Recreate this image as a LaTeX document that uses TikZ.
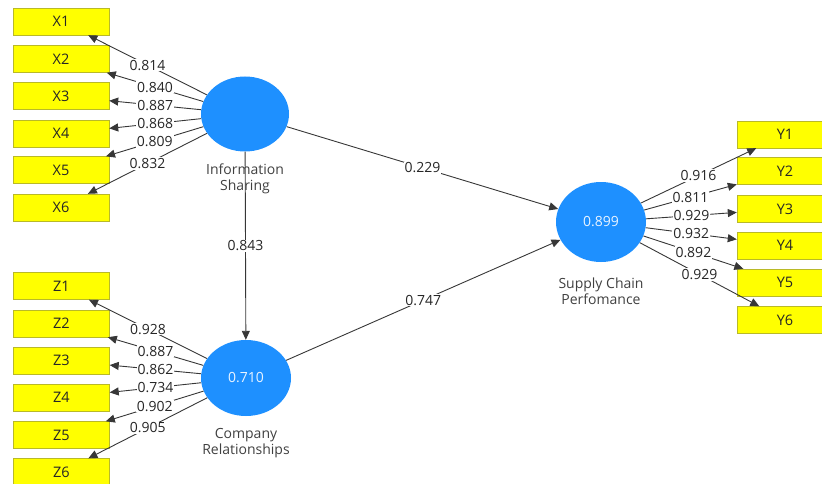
\documentclass[tikz,border=0pt]{standalone}
\usepackage{fontspec}
\setmainfont{Open Sans}
\usepackage{xcolor}
\usepackage{tikz}
\usetikzlibrary{arrows.meta,shapes.geometric}

\definecolor{latentblue}{RGB}{30,144,255}
\definecolor{itemyellow}{RGB}{255,255,0}
\definecolor{itemedge}{RGB}{185,185,40}
\definecolor{pathgray}{RGB}{55,55,55}

\tikzset{
	item/.style={draw=itemedge, fill=itemyellow, minimum width=96pt, minimum height=27pt, inner sep=0pt, text=black!85, font=\fontsize{14.5}{15}\selectfont},
	latent/.style={ellipse, fill=latentblue, inner sep=0pt, text=white!90!latentblue, font=\fontsize{14}{15}\selectfont},
	load/.style={draw=pathgray, line width=0.9pt, -{Triangle[length=9pt,width=8pt]}},
	weight/.style={fill=white, inner sep=1pt, text=black!85, font=\fontsize{14}{15}\selectfont},
	caption/.style={align=center, text=black!75, font=\fontsize{14}{16}\selectfont}
}

\begin{document}
\begin{tikzpicture}[x=1pt,y=-1pt]
\useasboundingbox (0,0) rectangle (822,484);

% constructs
\node[latent, minimum width=88pt, minimum height=75pt] (info) at (245,114) {};
\node[latent, minimum width=90pt, minimum height=76pt] (comp) at (246,378) {0.710};
\node[latent, minimum width=90pt, minimum height=80pt] (supply) at (601,222) {0.899};

\node[caption] (infotext) at (245,179) {Information\\Sharing};
\node[caption] (comptext) at (246,443) {Company\\Relationships};
\node[caption] (supplytext) at (601,291) {Supply Chain\\Perfomance};

% indicators
\foreach \n/\y in {1/21.5,2/59,3/96,4/133.5,5/170,6/207.5}{
	\node[item] (x\n) at (61,\y) {X\n};
}
\foreach \n/\y in {1/286,2/323.5,3/360.5,4/397.5,5/435,6/472}{
	\node[item] (z\n) at (61.5,\y) {Z\n};
}
\foreach \n/\y in {1/134.5,2/171,3/209,4/245.5,5/282.5,6/320}{
	\node[item] (y\n) at (785,\y) {Y\n};
}

% outer loadings
\foreach \n in {1,...,6}{
	\draw[load] (info) -- (x\n);
	\draw[load] (comp) -- (z\n);
	\draw[load] (supply) -- (y\n);
}

\foreach \n/\v in {1/0.814,2/0.840,3/0.887,4/0.868,5/0.809,6/0.832}{
	\path (info) -- node[weight] {\v} (x\n);
}
\foreach \n/\v in {1/0.928,2/0.887,3/0.862,4/0.734,5/0.902,6/0.905}{
	\path (comp) -- node[weight] {\v} (z\n);
}
\foreach \n/\v in {1/0.916,2/0.811,3/0.929,4/0.932,5/0.892,6/0.929}{
	\path (supply) -- node[weight] {\v} (y\n);
}

% inner model
\draw[load] (info) -- node[weight] {0.229} (supply);
\draw[load] (info) -- node[weight] {0.843} (comp);
\draw[load] (comp) -- node[weight] {0.747} (supply);

\end{tikzpicture}
\end{document}
